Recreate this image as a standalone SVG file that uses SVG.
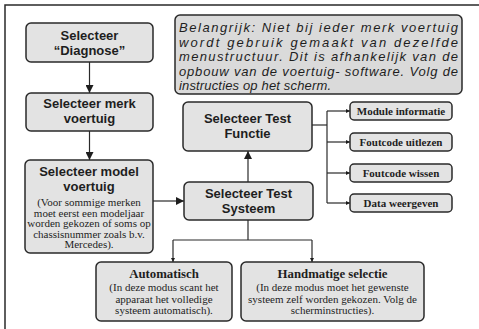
<svg xmlns="http://www.w3.org/2000/svg" width="479" height="329" viewBox="0 0 479 329">
<style>
.box{fill:#e3e3e3;stroke:#2a2a2a;stroke-width:1.5}
.note{fill:#dadada;stroke:#2a2a2a;stroke-width:1.5}
.h{font-family:"Liberation Sans",Arial,sans-serif;font-weight:bold;font-size:13px;fill:#1e1e1e;text-anchor:middle}
.s{font-family:"Liberation Serif","Times New Roman",serif;font-size:11px;fill:#1e1e1e;text-anchor:middle}
.sb{font-family:"Liberation Serif","Times New Roman",serif;font-weight:bold;font-size:11px;fill:#1e1e1e;text-anchor:middle}
.sbl{font-family:"Liberation Serif","Times New Roman",serif;font-weight:bold;font-size:12.8px;fill:#1e1e1e;text-anchor:middle}
.n{font-family:"Liberation Sans",Arial,sans-serif;font-style:italic;font-size:13px;fill:#1e1e1e}
.c{fill:none;stroke:#2a2a2a;stroke-width:1.2}
</style>
<defs>
<marker id="big" viewBox="0 0 10 10" refX="10" refY="5" markerWidth="9" markerHeight="8" markerUnits="userSpaceOnUse" orient="auto"><path d="M0,0L10,5L0,10z" fill="#1e1e1e"/></marker>
<marker id="sm" viewBox="0 0 10 10" refX="10" refY="5" markerWidth="4" markerHeight="4" markerUnits="userSpaceOnUse" orient="auto"><path d="M0,0L10,5L0,10z" fill="#1e1e1e"/></marker>
</defs>
<path d="M5,329V5H479" fill="none" stroke="#2a2a2a" stroke-width="1.5"/>
<g id="note">
<rect class="note" x="175" y="15" width="287" height="79" rx="5"/>
<text class="n" x="179" y="32" textLength="279" lengthAdjust="spacing">Belangrijk: Niet bij ieder merk voertuig</text>
<text class="n" x="179" y="46.5" textLength="279" lengthAdjust="spacing">wordt gebruik gemaakt van dezelfde</text>
<text class="n" x="179" y="61" textLength="279" lengthAdjust="spacing">menustructuur. Dit is afhankelijk van de</text>
<text class="n" x="179" y="75.5" textLength="279" lengthAdjust="spacing">opbouw van de voertuig- software. Volg de</text>
<text class="n" x="179" y="89.5" textLength="152" lengthAdjust="spacing">instructies op het scherm.</text>
</g>
<g id="connectors">
<path class="c" d="M89.5,62V93" marker-end="url(#big)"/>
<path class="c" d="M89.5,131V160" marker-end="url(#big)"/>
<path class="c" d="M153,201H184" marker-end="url(#big)"/>
<path class="c" d="M248,182V151" marker-end="url(#big)"/>
<path class="c" d="M312,125H327"/>
<path class="c" d="M327,111V203"/>
<path class="c" d="M327,111H350" marker-end="url(#sm)"/>
<path class="c" d="M327,142H350" marker-end="url(#sm)"/>
<path class="c" d="M327,173H350" marker-end="url(#sm)"/>
<path class="c" d="M327,203H350" marker-end="url(#sm)"/>
<path class="c" d="M248,220V240"/>
<path class="c" d="M173,240H312"/>
<path class="c" d="M173,240V262" marker-end="url(#sm)"/>
<path class="c" d="M312,240V262" marker-end="url(#sm)"/>
</g>
<g id="diagnose">
<rect class="box" x="26" y="23" width="127" height="39" rx="5"/>
<text class="h" x="89.5" y="40">Selecteer</text>
<text class="h" x="89.5" y="55">“Diagnose”</text>
</g>
<g id="merk">
<rect class="box" x="26" y="93" width="127" height="38" rx="5"/>
<text class="h" x="89.5" y="108">Selecteer merk</text>
<text class="h" x="89.5" y="123">voertuig</text>
</g>
<g id="model">
<rect class="box" x="25" y="160" width="128" height="93" rx="5"/>
<text class="h" x="89" y="176">Selecteer model</text>
<text class="h" x="89" y="191">voertuig</text>
<text class="s" x="89" y="206">(Voor sommige merken</text>
<text class="s" x="89" y="216.5">moet eerst een modeljaar</text>
<text class="s" x="89" y="227">worden gekozen of soms op</text>
<text class="s" x="89" y="237.5">chassisnummer zoals b.v.</text>
<text class="s" x="89" y="248">Mercedes).</text>
</g>
<g id="functie">
<rect class="box" x="183" y="102" width="129" height="49" rx="5"/>
<text class="h" x="247.5" y="122.5">Selecteer Test</text>
<text class="h" x="247.5" y="137.5">Functie</text>
</g>
<g id="systeem">
<rect class="box" x="184" y="182" width="129" height="38" rx="5"/>
<text class="h" x="248.5" y="198">Selecteer Test</text>
<text class="h" x="248.5" y="213">Systeem</text>
</g>
<g id="module">
<rect class="box" x="350" y="102" width="102" height="18" rx="4"/>
<text class="sb" x="401" y="115">Module informatie</text>
</g>
<g id="uitlezen">
<rect class="box" x="350" y="133" width="102" height="18" rx="4"/>
<text class="sb" x="401" y="146">Foutcode uitlezen</text>
</g>
<g id="wissen">
<rect class="box" x="350" y="164" width="102" height="18" rx="4"/>
<text class="sb" x="401" y="177">Foutcode wissen</text>
</g>
<g id="data">
<rect class="box" x="350" y="194" width="102" height="18" rx="4"/>
<text class="sb" x="401" y="207">Data weergeven</text>
</g>
<g id="automatisch">
<rect class="box" x="96" y="262" width="136" height="59" rx="5"/>
<text class="sbl" x="164" y="277.5">Automatisch</text>
<text class="s" x="164" y="291">(In deze modus scant het</text>
<text class="s" x="164" y="302.5">apparaat het volledige</text>
<text class="s" x="164" y="314">systeem automatisch).</text>
</g>
<g id="handmatig">
<rect class="box" x="241" y="262" width="183" height="59" rx="5"/>
<text class="sbl" x="332.5" y="277.5">Handmatige selectie</text>
<text class="s" x="332.5" y="291">(In deze modus moet het gewenste</text>
<text class="s" x="332.5" y="302.5">systeem zelf worden gekozen. Volg de</text>
<text class="s" x="332.5" y="314">scherminstructies).</text>
</g>
</svg>
